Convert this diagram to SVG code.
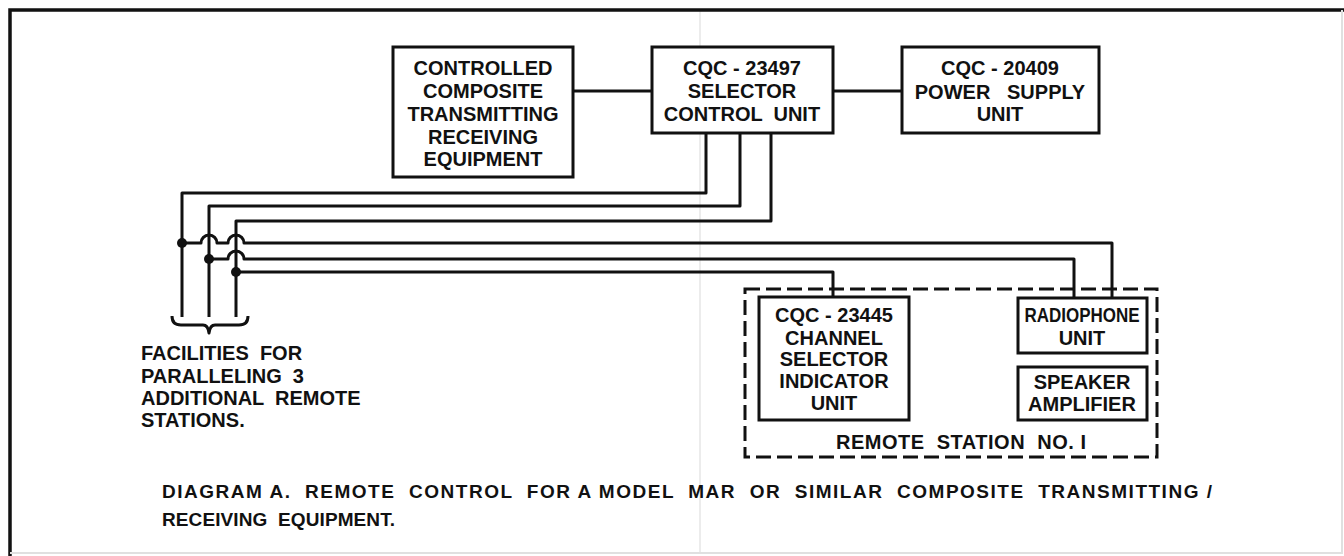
<svg xmlns="http://www.w3.org/2000/svg" width="1344" height="556" viewBox="0 0 1344 556">
<style>
.box{fill:#fff;stroke:#111;stroke-width:3}
.w{fill:none;stroke:#111;stroke-width:3;stroke-linejoin:round}
.dash{fill:none;stroke:#111;stroke-width:3;stroke-dasharray:15 6}
.t{font-family:"Liberation Sans",Arial,sans-serif;font-weight:bold;font-size:20px;fill:#111;text-anchor:middle;white-space:pre}
.tl{font-family:"Liberation Sans",Arial,sans-serif;font-weight:bold;font-size:20px;fill:#111;white-space:pre}
.cap{font-family:"Liberation Sans",Arial,sans-serif;font-weight:bold;font-size:19px;fill:#111;white-space:pre}
.dot{fill:#111}
</style>
<rect width="1344" height="556" fill="#fff"/>
<g id="frame">
<line x1="700" y1="10" x2="700" y2="553" stroke="#ececec" stroke-width="2"/>
<path d="M10,556 V10 H1344" fill="none" stroke="#111" stroke-width="3.5"/>
<path d="M10,553 H1342 V10" fill="none" stroke="#e0e0e0" stroke-width="2"/>
</g>
<g id="connectors">
<line class="w" x1="573" y1="91" x2="652" y2="91"/>
<line class="w" x1="833" y1="91" x2="902" y2="91"/>
<path class="w" d="M706,133 V193 H182 V317"/>
<path class="w" d="M740,133 V206 H209 V317"/>
<path class="w" d="M771,133 V221 H236 V317"/>
<path class="w" d="M182,243 H201 a8,8 0 0 1 16,0 H228 a8,8 0 0 1 16,0 H1112 V298"/>
<path class="w" d="M209,259 H228 a8,8 0 0 1 16,0 H1074 V298"/>
<path class="w" d="M236,272 H833 V297"/>
<circle class="dot" cx="182" cy="243" r="5"/>
<circle class="dot" cx="209" cy="259" r="5"/>
<circle class="dot" cx="236" cy="272" r="5"/>
<path class="w" d="M172,316 Q172,325 181,325 H203 Q208,325 209,333 Q210,325 215,325 H239 Q248,325 248,316" stroke-width="2.5"/>
</g>
<g id="controlled">
<rect class="box" x="393" y="47" width="180" height="130"/>
<text class="t" x="483" y="75">CONTROLLED</text>
<text class="t" x="483" y="98">COMPOSITE</text>
<text class="t" x="483" y="121">TRANSMITTING</text>
<text class="t" x="483" y="144">RECEIVING</text>
<text class="t" x="483" y="166">EQUIPMENT</text>
</g>
<g id="selector">
<rect class="box" x="652" y="47" width="181" height="86"/>
<text class="t" x="742" y="75">CQC - 23497</text>
<text class="t" x="742" y="98">SELECTOR</text>
<text class="t" x="742" y="121">CONTROL  UNIT</text>
</g>
<g id="power">
<rect class="box" x="902" y="47" width="197" height="86"/>
<text class="t" x="1000" y="75">CQC - 20409</text>
<text class="t" x="1000" y="99">POWER   SUPPLY</text>
<text class="t" x="1000" y="121">UNIT</text>
</g>
<g id="remote-station">
<rect class="dash" x="745" y="289" width="412" height="168"/>
<text class="t" x="961" y="449" textLength="250" lengthAdjust="spacing">REMOTE  STATION  NO. I</text>
</g>
<g id="channel">
<rect class="box" x="759" y="297" width="150" height="123"/>
<text class="t" x="834" y="322">CQC - 23445</text>
<text class="t" x="834" y="345">CHANNEL</text>
<text class="t" x="834" y="366">SELECTOR</text>
<text class="t" x="834" y="388">INDICATOR</text>
<text class="t" x="834" y="410">UNIT</text>
</g>
<g id="radiophone">
<rect class="box" x="1018" y="298" width="129" height="55"/>
<text class="t" x="1082" y="322" textLength="115" lengthAdjust="spacingAndGlyphs">RADIOPHONE</text>
<text class="t" x="1082" y="345">UNIT</text>
</g>
<g id="speaker">
<rect class="box" x="1018" y="367" width="129" height="53"/>
<text class="t" x="1082" y="389">SPEAKER</text>
<text class="t" x="1082" y="411">AMPLIFIER</text>
</g>
<g id="facilities">
<text class="tl" x="141" y="360">FACILITIES  FOR</text>
<text class="tl" x="141" y="383">PARALLELING  3</text>
<text class="tl" x="141" y="405">ADDITIONAL  REMOTE</text>
<text class="tl" x="141" y="427">STATIONS.</text>
</g>
<g id="caption">
<text class="cap" x="162" y="498" textLength="1050" lengthAdjust="spacing">DIAGRAM A.  REMOTE  CONTROL  FOR A MODEL  MAR  OR  SIMILAR  COMPOSITE  TRANSMITTING /</text>
<text class="cap" x="162" y="526" textLength="233" lengthAdjust="spacing">RECEIVING  EQUIPMENT.</text>
</g>
</svg>
